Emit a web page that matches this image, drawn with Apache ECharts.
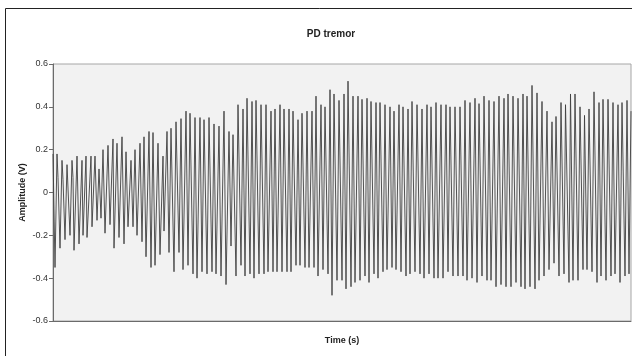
<!DOCTYPE html>
<html><head><meta charset="utf-8">
<script src="https://cdn.jsdelivr.net/npm/echarts@6/dist/echarts.min.js"></script>
<style>html,body{margin:0;padding:0;background:#fff}#c{width:632px;height:356px}</style>
</head><body><div id="c"></div>
<script>
// Time in steps of 0.05 s at each turning point
const timeSteps = [0,2,4,5,7,9,10,12,14,17,19,20,21,24,26,29,30,33,34,38,39,42,44,46,48,50,52,55,57,60,61,64,66,69,71,73,75,78,80,82,84,87,89,91,93,96,98,100,102,105,107,110,111,114,116,118,121,123,126,128,130,133,135,137,140,142,144,147,149,151,154,156,159,161,163,166,168,171,173,176,178,180,183,185,188,190,192,194,197,199,201,203,206,208,211,213,215,218,220,222,224,227,229,231,234,236,238,240,243,245,247,249,252,254,256,259,261,263,265,268,270,272,275,277,279,281,284,286,289,291,293,295,298,300,302,305,307,309,312,314,316,318,321,323,325,327,330,332,334,337,339,341,343,346,348,350,353,355,357,359,362,364,367,369,371,374,376,378,381,383,385,388,390,393,395,397,400,402,405,407,410,412,414,417,419,422,424,426,429,431,434,436,438,441,443,446,448,451,453,455,458,460,463,465,468,470,472,474,477,479,482,484,486,489,491,494,496,499,501,503,506,508,511,512.5,516,517.5,520,522,525,527,530,531.5,534,536,539,541,544,546,548,550,553,555,558,560,562,565,567,569,572,574,576,578];
// Amplitude (V) at each turning point
const amplitude = [0.18,-0.35,0.18,0.07,-0.26,0.15,0.06,-0.22,0.13,-0.20,0.15,0.07,-0.27,0.17,-0.24,0.15,-0.20,0.17,-0.21,0.17,-0.16,0.17,-0.13,0.11,-0.12,0.20,-0.19,0.22,-0.15,0.25,-0.26,0.23,-0.21,0.26,-0.24,0.19,-0.16,0.15,-0.16,0.20,-0.20,0.23,-0.23,0.26,-0.30,0.285,-0.35,0.28,-0.34,0.23,-0.29,0.17,-0.18,0.285,-0.28,0.30,-0.37,0.33,-0.28,0.345,-0.36,0.38,-0.34,0.37,-0.38,0.35,-0.40,0.35,-0.37,0.34,-0.38,0.35,-0.37,0.32,-0.38,0.31,-0.39,0.38,-0.43,0.285,-0.25,0.27,-0.39,0.41,-0.34,0.39,-0.39,0.44,-0.38,0.425,-0.40,0.43,-0.38,0.41,-0.38,0.41,-0.37,0.38,-0.37,0.39,-0.37,0.41,-0.37,0.39,-0.37,0.39,-0.37,0.38,-0.34,0.34,-0.34,0.37,-0.35,0.38,-0.35,0.38,-0.35,0.45,-0.39,0.41,-0.36,0.40,-0.38,0.48,-0.48,0.46,-0.41,0.43,-0.41,0.46,-0.45,0.52,-0.44,0.45,-0.42,0.45,-0.41,0.435,-0.39,0.44,-0.42,0.425,-0.38,0.42,-0.40,0.42,-0.37,0.41,-0.36,0.40,-0.35,0.38,-0.36,0.41,-0.37,0.40,-0.39,0.39,-0.38,0.425,-0.37,0.41,-0.38,0.39,-0.40,0.41,-0.38,0.40,-0.40,0.42,-0.40,0.41,-0.40,0.41,-0.37,0.40,-0.39,0.40,-0.39,0.40,-0.39,0.43,-0.41,0.42,-0.40,0.44,-0.42,0.415,-0.39,0.45,-0.41,0.43,-0.41,0.425,-0.44,0.45,-0.43,0.44,-0.44,0.46,-0.44,0.45,-0.42,0.44,-0.44,0.46,-0.45,0.45,-0.44,0.50,-0.45,0.465,-0.41,0.425,-0.39,0.38,-0.36,0.33,-0.33,0.355,-0.39,0.42,-0.38,0.41,-0.42,0.46,-0.41,0.46,-0.41,0.40,-0.36,0.36,-0.36,0.39,-0.37,0.47,-0.42,0.42,-0.39,0.435,-0.41,0.435,-0.39,0.42,-0.38,0.41,-0.42,0.42,-0.39,0.43,-0.38,0.38];
const yTicks = [-0.6,-0.4,-0.2,0,0.2,0.4,0.6];
const titleText = 'PD tremor';
const xName = 'Time (s)';
const yName = 'Amplitude (V)';

const seriesData = timeSteps.map((t, i) => [t * 0.05, amplitude[i]]);
const chart = echarts.init(document.getElementById('c'), null, {renderer: 'canvas'});
const font = 'Liberation Sans, Arial, sans-serif';
chart.setOption({
  animation: false,
  backgroundColor: '#ffffff',
  graphic: [{
    type: 'rect', shape: {x: 5.5, y: 8.5, width: 700, height: 400},
    style: {fill: 'none', stroke: '#222', lineWidth: 1}, z: -10
  }],
  title: {
    text: titleText, left: 326, top: 24, textAlign: 'center',
    textStyle: {fontFamily: font, fontSize: 10, fontWeight: 'bold', color: '#222'}
  },
  grid: {
    left: 53, right: 1, top: 64, bottom: 35, show: true,
    backgroundColor: '#f2f2f2', borderColor: '#a6a6a6', borderWidth: 1
  },
  xAxis: {
    type: 'value', min: 0, max: timeSteps[timeSteps.length - 1] * 0.05,
    name: xName, nameLocation: 'middle', nameGap: 15, nameMoveOverlap: false,
    nameTextStyle: {fontFamily: font, fontSize: 9, fontWeight: 'bold', color: '#222'},
    axisLine: {show: true, onZero: false, lineStyle: {color: '#6b6b6b', width: 1}},
    axisTick: {show: false}, axisLabel: {show: false}, splitLine: {show: false}
  },
  yAxis: {
    type: 'value', min: yTicks[0], max: yTicks[yTicks.length - 1], interval: 0.2,
    name: yName, nameLocation: 'middle', nameGap: 26, nameRotate: 90, nameMoveOverlap: false,
    nameTextStyle: {fontFamily: font, fontSize: 9, fontWeight: 'bold', color: '#222'},
    axisLine: {show: true, lineStyle: {color: '#6b6b6b', width: 1}},
    axisTick: {show: true, length: 4, lineStyle: {color: '#6b6b6b'}},
    axisLabel: {fontFamily: font, fontSize: 9, color: '#333', margin: 5,
      formatter: v => String(Math.round(v * 10) / 10)},
    splitLine: {show: false}
  },
  series: [{
    type: 'line', data: seriesData, showSymbol: false, symbol: 'none',
    lineStyle: {color: '#404040', width: 0.9}, smooth: false
  }]
});
</script></body></html>
